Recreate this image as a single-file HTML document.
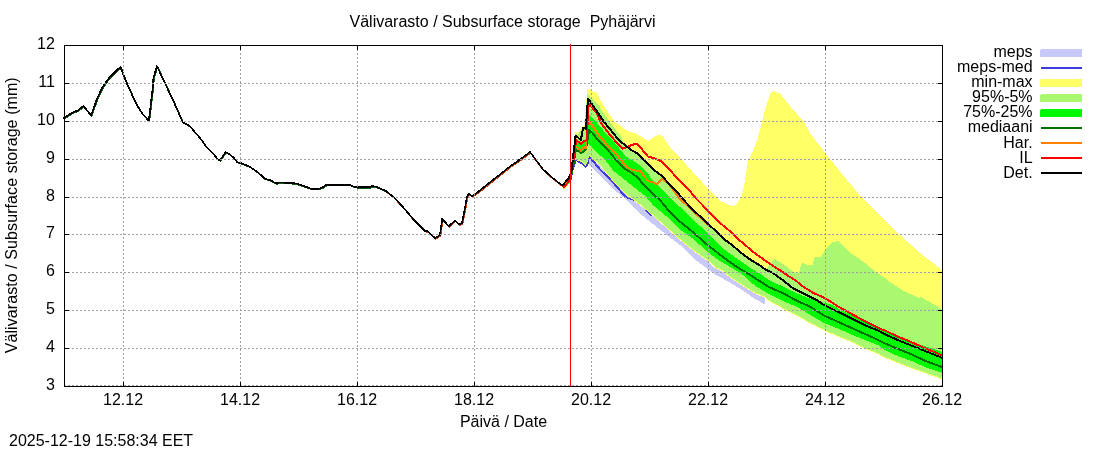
<!DOCTYPE html>
<html><head><meta charset="utf-8"><style>
html,body{margin:0;padding:0;background:#fff;width:1100px;height:450px;overflow:hidden}
svg{display:block;will-change:transform}
</style></head><body>
<svg width="1100" height="450" viewBox="0 0 1100 450">
<g stroke="none">
<polygon shape-rendering="crispEdges" fill="#c8c8fa" points="589.3,156.3 600.0,165.8 613.3,182.1 626.7,195.5 640.0,205.3 653.3,216.3 666.7,228.3 680.0,240.3 695.0,252.3 708.3,261.6 715.0,268.3 721.7,271.0 728.3,276.3 741.7,285.6 755.0,293.6 764.3,297.6 765.0,298.1 765.0,304.5 755.0,299.0 741.7,289.7 728.3,281.7 715.0,274.3 708.3,269.5 695.0,259.5 688.0,253.0 680.0,245.0 666.7,235.0 653.3,224.3 640.0,213.5 626.7,200.0 615.0,190.5 600.0,176.0 588.3,163.3 588.3,156.3"/>
</g>
<polyline shape-rendering="crispEdges" stroke-linejoin="round" fill="none" stroke="#3c3cdc" stroke-width="2" points="563.0,188.0 570.0,182.0 573.0,168.0 576.0,159.9 581.3,163.0 585.8,166.6 588.0,163.0 589.3,156.3 600.0,169.5 606.7,176.0 613.3,182.7 625.3,196.7 628.0,198.0 635.3,200.0 640.0,202.7 648.0,212.0 652.0,215.5"/>
<polygon shape-rendering="crispEdges" fill="#ffff66" points="563.0,183.0 569.0,176.0 572.4,158.0 575.6,131.6 577.8,133.3 582.2,126.2 584.4,126.2 587.3,89.3 590.0,89.3 592.0,91.3 596.7,92.0 598.7,96.0 602.0,102.7 608.7,113.3 615.3,122.7 621.3,126.0 628.0,131.3 636.0,133.3 641.3,136.7 648.0,141.0 654.0,137.0 658.0,135.0 663.0,136.0 665.0,140.0 671.7,149.3 681.0,158.7 691.7,170.7 705.0,185.3 720.0,201.0 728.0,204.4 734.0,206.4 738.0,202.0 742.0,196.0 745.0,180.0 748.0,160.0 750.0,157.0 756.0,144.0 761.0,126.0 766.0,106.0 771.0,92.0 774.0,91.0 780.0,93.6 790.0,106.0 804.0,122.0 810.0,133.0 826.0,154.0 842.0,174.0 864.0,200.0 884.0,220.0 900.0,235.0 920.0,253.0 929.0,260.0 942.0,270.0 942.0,379.5 925.0,373.3 911.7,368.7 898.3,363.3 885.0,358.0 878.3,354.3 865.0,349.0 851.7,342.3 838.3,337.0 823.3,330.3 810.0,323.7 796.7,315.7 783.3,309.0 770.0,301.7 764.3,297.3 755.0,293.3 741.7,285.3 728.3,276.0 721.7,270.7 715.0,268.0 708.3,261.3 695.0,252.0 680.0,240.0 666.7,228.0 653.3,216.0 640.0,205.0 626.7,195.2 613.3,181.8 600.0,165.5 589.3,156.0 587.6,161.3 585.8,165.8 581.3,162.2 575.1,159.6 573.0,171.0 570.0,184.0 563.0,190.0"/>
<polygon shape-rendering="crispEdges" fill="#aaf870" points="563.0,184.0 569.0,177.0 572.4,160.0 575.6,133.5 577.8,135.0 582.2,128.0 584.4,128.0 587.3,94.0 593.3,100.0 599.3,105.3 601.3,110.0 612.0,124.7 621.3,136.7 625.0,146.0 630.3,150.4 636.6,154.0 642.8,160.2 649.0,166.4 656.1,172.7 662.3,177.1 669.0,185.0 677.0,193.0 683.7,201.0 693.0,211.0 700.0,217.3 708.3,225.3 719.0,234.7 725.0,241.0 730.3,244.6 736.6,249.9 742.8,255.2 749.0,259.7 754.3,263.2 760.6,266.8 767.0,268.7 772.3,260.7 775.0,258.7 777.7,260.7 784.3,264.7 791.0,270.0 795.0,272.7 799.0,272.7 801.0,264.7 803.0,262.7 807.0,265.3 812.3,265.3 814.3,258.3 815.7,257.0 821.0,257.0 823.7,252.3 827.7,246.3 833.0,241.7 838.3,241.3 845.0,247.0 850.3,253.0 858.3,258.3 865.0,263.0 876.0,272.0 885.0,278.0 890.0,282.0 902.0,290.0 919.0,298.0 921.0,297.0 942.0,309.0 942.0,378.5 925.0,372.3 911.7,367.7 898.3,362.3 885.0,357.0 878.3,353.3 865.0,348.0 851.7,341.3 838.3,336.0 823.3,329.3 810.0,322.7 796.7,314.7 783.3,308.0 770.0,300.7 764.3,296.3 755.0,292.3 741.7,284.3 728.3,275.0 721.7,269.7 715.0,267.0 708.3,260.3 695.0,251.0 680.0,239.0 666.7,227.0 653.3,215.0 640.0,204.0 626.7,194.2 613.3,180.8 600.0,164.5 589.3,155.0 587.6,160.3 585.8,164.8 581.3,161.2 575.1,158.6 573.0,170.0 570.0,183.0 563.0,189.0"/>
<polygon shape-rendering="crispEdges" fill="#00f800" points="563.0,186.0 570.0,180.0 573.0,165.0 575.6,140.0 580.9,145.0 583.6,142.0 586.7,141.0 588.7,114.0 596.7,122.7 604.7,132.0 612.0,139.0 625.0,155.7 630.3,159.2 636.6,162.8 642.8,168.1 648.1,173.4 651.7,179.7 656.1,184.1 663.7,191.7 671.7,199.7 680.0,207.0 693.3,219.5 700.0,226.0 708.3,233.7 725.0,250.0 733.9,256.5 742.8,262.5 751.7,268.8 760.6,274.0 768.3,279.5 775.0,283.0 783.3,286.7 796.7,293.3 810.0,298.7 823.3,302.7 830.0,304.0 845.0,312.0 865.0,320.0 885.0,331.0 911.7,341.7 942.0,351.7 942.0,373.0 925.0,367.0 911.7,361.0 898.3,356.3 885.0,350.0 878.3,345.3 865.0,340.0 851.7,334.7 838.3,328.7 823.3,322.7 810.0,314.7 796.7,306.7 783.3,301.3 768.3,293.7 755.0,285.7 747.2,279.1 742.8,274.7 733.9,269.3 725.0,264.0 715.0,257.7 708.3,252.3 693.3,239.0 680.0,229.5 666.7,216.5 653.3,205.5 645.3,196.0 633.3,186.7 620.0,176.0 613.3,170.7 605.3,160.0 596.0,151.3 588.0,143.3 586.0,151.0 581.3,153.5 575.0,150.0 572.5,172.0 570.0,183.0 563.0,188.0"/>
<polyline shape-rendering="crispEdges" stroke-linejoin="round" fill="none" stroke="#007000" stroke-width="2" points="563.0,187.0 569.5,181.0 572.0,172.0 576.0,149.8 581.3,152.9 585.8,149.8 589.3,129.8 598.7,140.7 608.0,150.0 616.0,160.0 620.0,164.0 625.0,169.0 631.2,172.6 638.3,177.9 642.8,184.1 653.3,194.5 660.0,200.0 666.7,208.3 680.0,221.7 694.0,233.0 708.3,245.7 725.0,258.5 733.9,265.0 742.8,270.5 751.7,276.0 758.3,280.3 769.0,287.0 783.3,293.3 796.7,300.7 810.0,306.7 824.0,315.5 838.3,322.0 851.7,328.0 865.0,334.0 878.3,340.0 885.0,343.5 898.3,349.0 911.7,354.3 925.0,360.8 942.0,367.0"/>
<polyline shape-rendering="crispEdges" stroke-linejoin="round" fill="none" stroke="#ff8000" stroke-width="2" points="563.0,187.0 569.5,180.0 572.0,168.0 575.1,145.8 580.9,150.7 583.6,146.7 585.8,148.4 587.5,125.0 589.3,121.5 598.7,135.3 608.0,146.0 617.3,155.3 625.0,165.4 630.3,169.0 635.7,170.8 639.7,170.8 642.8,174.3 648.1,181.4 651.7,181.9 657.0,184.1 662.3,178.8 669.0,184.0 671.7,188.0 679.7,198.7 686.0,204.5 700.0,217.5 708.0,225.5"/>
<polyline shape-rendering="crispEdges" stroke-linejoin="round" fill="none" stroke="#ff0000" stroke-width="2" points="563.6,187.9 569.8,179.9 572.4,163.9 574.7,155.0 576.0,139.6 580.9,144.0 583.6,140.9 586.7,140.4 588.7,103.3 596.7,113.3 601.3,123.3 609.3,134.0 617.3,143.3 622.7,148.7 626.7,147.3 632.0,144.7 637.3,144.0 642.8,150.3 648.1,156.6 654.3,158.3 660.6,161.0 665.0,165.4 669.0,169.0 678.3,179.5 687.7,188.5 697.0,199.5 712.3,215.0 721.7,224.3 729.7,231.0 739.2,240.0 744.6,244.4 751.7,250.7 758.8,256.0 765.0,260.4 768.3,262.7 775.0,267.3 781.7,271.3 788.3,276.0 795.0,280.0 803.3,286.7 814.0,293.3 823.3,297.3 830.0,301.3 838.3,306.7 851.7,314.0 865.0,321.3 878.3,328.0 885.0,330.5 897.0,336.3 911.7,342.3 925.0,348.3 942.0,355.2"/>
<polyline shape-rendering="crispEdges" stroke-linejoin="round" fill="none" stroke="#000" stroke-width="2" points="562.7,185.2 568.9,178.1 571.6,171.0 573.3,155.0 575.6,135.6 580.9,140.0 583.1,127.6 585.8,128.9 588.0,98.5 596.0,110.0 604.0,122.0 610.7,130.0 618.7,140.0 625.0,145.0 630.3,149.4 636.6,153.0 642.8,159.2 649.0,165.4 656.1,171.7 662.3,176.1 669.0,184.0 677.0,192.0 683.7,200.0 693.0,210.0 700.0,216.3 708.3,224.3 719.0,233.7 725.0,240.0 730.3,243.6 736.6,248.9 742.8,254.2 749.0,258.7 754.3,262.2 760.6,265.8 765.0,269.3 772.3,272.7 781.7,279.3 792.7,288.0 806.0,294.7 816.7,300.0 823.3,304.7 830.0,308.0 838.3,312.0 851.7,318.7 865.0,325.3 878.3,330.7 885.0,334.3 898.3,340.3 911.7,345.7 925.0,351.0 942.0,357.8"/>
<polyline shape-rendering="crispEdges" stroke-linejoin="round" fill="none" stroke="#0a6010" stroke-width="1.6" points="64.0,119.6 64.9,118.2 72.9,113.2 78.3,111.1 83.9,106.6 91.6,116.0 97.8,98.6 103.1,87.6 110.2,77.7 120.9,67.5 127.1,83.5 136.9,104.8 143.1,114.6 149.3,121.4 152.9,91.5 154.0,78.0 157.5,66.8 165.3,83.5 174.2,102.2 183.1,122.6 190.2,126.7 196.5,134.0 202.5,141.0 206.5,147.0 212.5,153.0 218.5,160.0 220.5,161.0 226.1,152.6 230.5,155.0 234.5,158.6 237.5,162.6 242.5,164.0 250.5,167.4 258.5,173.0 265.5,179.4 271.5,181.0 276.5,184.0 280.5,183.0 296.5,184.0 302.5,186.0 312.5,189.6 318.5,189.6 323.2,187.9 326.7,185.6 350.7,185.6 353.4,187.0 358.7,187.9 370.2,187.9 372.9,186.6 376.5,187.3 386.2,191.4 395.1,198.5"/>
<polyline shape-rendering="crispEdges" stroke-linejoin="round" fill="none" stroke="#c83c10" stroke-width="1.6" points="386.2,191.6 395.1,198.7 404.0,208.5 414.6,220.9 425.3,231.6 428.0,231.9 435.6,239.0 440.4,236.0 442.7,219.5 449.3,227.1 455.5,221.2 459.5,225.2 462.5,224.2 465.5,209.2 467.5,197.2 469.5,194.8 472.5,196.8 476.5,194.2 485.5,187.2 500.5,175.2 510.5,167.2 521.5,159.6 530.5,152.8 543.5,170.2 552.5,178.2 560.5,184.6 563.2,186.4"/>
<polyline shape-rendering="crispEdges" stroke-linejoin="round" fill="none" stroke="#000" stroke-width="1.7" points="63.5,119.0 64.4,117.6 72.4,112.6 77.8,110.5 83.4,106.0 91.1,115.4 97.3,98.0 102.6,87.0 109.7,77.1 120.4,66.9 126.6,82.9 136.4,104.2 142.6,114.0 148.8,120.8 152.4,90.9 153.5,77.4 157.0,66.2 164.8,82.9 173.7,101.6 182.6,122.0 189.7,126.1 196.0,133.4 202.0,140.4 206.0,146.4 212.0,152.4 218.0,159.4 220.0,160.4 225.6,152.0 230.0,154.4 234.0,158.0 237.0,162.0 242.0,163.4 250.0,166.8 258.0,172.4 265.0,178.8 271.0,180.4 276.0,183.4 280.0,182.4 296.0,183.4 302.0,185.4 312.0,189.0 318.0,189.0 322.7,187.3 326.2,185.0 350.2,185.0 352.9,186.4 358.2,187.3 369.7,187.3 372.4,186.0 376.0,186.7 385.7,190.8 394.6,197.9 403.5,207.7 414.1,220.1 424.8,230.8 427.5,231.1 435.1,238.2 439.9,235.2 442.2,218.7 448.8,226.3 455.0,220.4 459.0,224.4 462.0,223.4 465.0,208.4 467.0,196.4 469.0,194.0 472.0,196.0 476.0,193.4 485.0,186.4 500.0,174.4 510.0,166.4 521.0,158.8 530.0,152.0 543.0,169.4 552.0,177.4 560.0,183.8 562.7,185.6"/>
<g stroke="#a0a0a0" stroke-width="1" stroke-dasharray="2,2" shape-rendering="crispEdges">
<line x1="64" y1="83.5" x2="942" y2="83.5"/>
<line x1="64" y1="121.5" x2="942" y2="121.5"/>
<line x1="64" y1="159.5" x2="942" y2="159.5"/>
<line x1="64" y1="197.5" x2="942" y2="197.5"/>
<line x1="64" y1="234.5" x2="942" y2="234.5"/>
<line x1="64" y1="272.5" x2="942" y2="272.5"/>
<line x1="64" y1="310.5" x2="942" y2="310.5"/>
<line x1="64" y1="348.5" x2="942" y2="348.5"/>
<line x1="64" y1="385.5" x2="942" y2="385.5"/>
<line x1="123.5" y1="45" x2="123.5" y2="386"/>
<line x1="240.5" y1="45" x2="240.5" y2="386"/>
<line x1="357.5" y1="45" x2="357.5" y2="386"/>
<line x1="474.5" y1="45" x2="474.5" y2="386"/>
<line x1="591.5" y1="45" x2="591.5" y2="386"/>
<line x1="708.5" y1="45" x2="708.5" y2="386"/>
<line x1="825.5" y1="45" x2="825.5" y2="386"/>
</g>
<g fill="#000" shape-rendering="crispEdges">
<rect x="64" y="45" width="879" height="1"/>
<rect x="64" y="386" width="879" height="1"/>
<rect x="64" y="45" width="1" height="342"/>
<rect x="942" y="45" width="1" height="342"/>
<rect x="64" y="45" width="5" height="1"/>
<rect x="938" y="45" width="5" height="1"/>
<rect x="64" y="83" width="5" height="1"/>
<rect x="938" y="83" width="5" height="1"/>
<rect x="64" y="121" width="5" height="1"/>
<rect x="938" y="121" width="5" height="1"/>
<rect x="64" y="159" width="5" height="1"/>
<rect x="938" y="159" width="5" height="1"/>
<rect x="64" y="197" width="5" height="1"/>
<rect x="938" y="197" width="5" height="1"/>
<rect x="64" y="234" width="5" height="1"/>
<rect x="938" y="234" width="5" height="1"/>
<rect x="64" y="272" width="5" height="1"/>
<rect x="938" y="272" width="5" height="1"/>
<rect x="64" y="310" width="5" height="1"/>
<rect x="938" y="310" width="5" height="1"/>
<rect x="64" y="348" width="5" height="1"/>
<rect x="938" y="348" width="5" height="1"/>
<rect x="123" y="382" width="1" height="4"/>
<rect x="123" y="45" width="1" height="5"/>
<rect x="240" y="382" width="1" height="4"/>
<rect x="240" y="45" width="1" height="5"/>
<rect x="357" y="382" width="1" height="4"/>
<rect x="357" y="45" width="1" height="5"/>
<rect x="474" y="382" width="1" height="4"/>
<rect x="474" y="45" width="1" height="5"/>
<rect x="591" y="382" width="1" height="4"/>
<rect x="591" y="45" width="1" height="5"/>
<rect x="708" y="382" width="1" height="4"/>
<rect x="708" y="45" width="1" height="5"/>
<rect x="825" y="382" width="1" height="4"/>
<rect x="825" y="45" width="1" height="5"/>
<rect x="942" y="382" width="1" height="4"/>
<rect x="942" y="45" width="1" height="5"/>
</g>
<rect x="570" y="44" width="1" height="342" fill="#f00" shape-rendering="crispEdges"/>
<g font-family="Liberation Sans, sans-serif" font-size="16" fill="#000">
<text x="502.5" y="27" text-anchor="middle">Välivarasto / Subsurface storage&#160; Pyhäjärvi</text>
<text x="54.8" y="49" text-anchor="end">12</text>
<text x="54.8" y="87" text-anchor="end">11</text>
<text x="54.8" y="125" text-anchor="end">10</text>
<text x="54.8" y="163" text-anchor="end">9</text>
<text x="54.8" y="201" text-anchor="end">8</text>
<text x="54.8" y="238" text-anchor="end">7</text>
<text x="54.8" y="276" text-anchor="end">6</text>
<text x="54.8" y="314" text-anchor="end">5</text>
<text x="54.8" y="352" text-anchor="end">4</text>
<text x="54.8" y="390" text-anchor="end">3</text>
<text x="123.1" y="405" text-anchor="middle">12.12</text>
<text x="240.1" y="405" text-anchor="middle">14.12</text>
<text x="357.1" y="405" text-anchor="middle">16.12</text>
<text x="474.1" y="405" text-anchor="middle">18.12</text>
<text x="591.1" y="405" text-anchor="middle">20.12</text>
<text x="708.1" y="405" text-anchor="middle">22.12</text>
<text x="825.1" y="405" text-anchor="middle">24.12</text>
<text x="942.1" y="405" text-anchor="middle">26.12</text>
<text x="503.5" y="427" text-anchor="middle">Päivä / Date</text>
<text x="9" y="445.5">2025-12-19 15:58:34 EET</text>
<text transform="translate(17,215.3) rotate(-90)" text-anchor="middle" textLength="276" lengthAdjust="spacing">Välivarasto / Subsurface storage (mm)</text>
<text x="1032.6" y="57.2" text-anchor="end">meps</text>
<text x="1032.6" y="72.2" text-anchor="end">meps-med</text>
<text x="1032.6" y="87.3" text-anchor="end">min-max</text>
<text x="1032.6" y="102.4" text-anchor="end">95%-5%</text>
<text x="1032.6" y="117.4" text-anchor="end">75%-25%</text>
<text x="1032.6" y="132.4" text-anchor="end">mediaani</text>
<text x="1032.6" y="147.5" text-anchor="end">Har.</text>
<text x="1032.6" y="162.6" text-anchor="end">IL</text>
<text x="1032.6" y="177.6" text-anchor="end">Det.</text>
</g>
<rect x="1040" y="49" width="42" height="8" fill="#c8c8fa"/>
<rect x="1041" y="67" width="41" height="2" fill="#3c3cdc"/>
<rect x="1040" y="79" width="42" height="8" fill="#ffff66"/>
<rect x="1040" y="94" width="42" height="8" fill="#aaf870"/>
<rect x="1040" y="109" width="42" height="8" fill="#00f800"/>
<rect x="1041" y="127" width="41" height="2" fill="#007000"/>
<rect x="1041" y="142" width="41" height="2" fill="#ff8000"/>
<rect x="1041" y="157" width="41" height="2" fill="#ff0000"/>
<rect x="1041" y="172" width="41" height="2" fill="#000"/>
<g fill="#fff"><rect x="1040" y="49" width="1" height="1"/><rect x="1040" y="79" width="1" height="1"/><rect x="1040" y="94" width="1" height="1"/><rect x="1040" y="109" width="1" height="1"/></g>
</svg>
</body></html>
